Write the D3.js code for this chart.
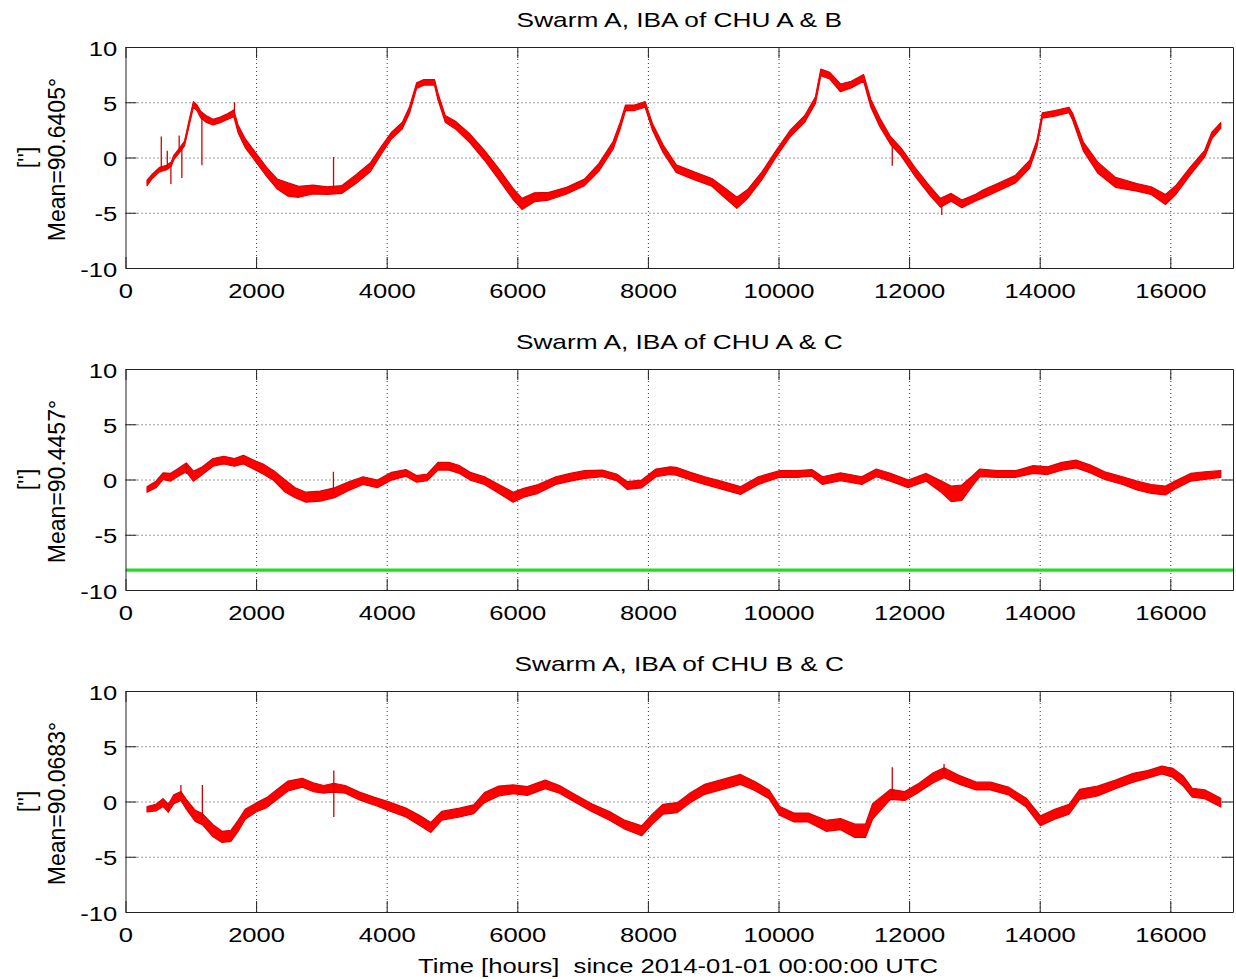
<!DOCTYPE html>
<html><head><meta charset="utf-8">
<script src="https://cdn.jsdelivr.net/npm/d3@7"></script>
<style>
body{margin:0;background:#fff}
svg{display:block}
text{font-family:"Liberation Sans",Arial,Helvetica,sans-serif;fill:#000}
</style>
</head><body>
<svg id="c" width="1236" height="979"></svg>
<script>
// ---------- data (hours since 2014-01-01, value ["], half-spread of noise band) ----------
const xDomain = [0, 16960];
const yDomain = [-10, 10];
const xTicks = [0, 2000, 4000, 6000, 8000, 10000, 12000, 14000, 16000];
const yTicks = [-10, -5, 0, 5, 10];

const titles = ["Swarm A, IBA of CHU A & B", "Swarm A, IBA of CHU A & C", "Swarm A, IBA of CHU B & C"];
const meanLabels = ["Mean=90.6405°", "Mean=90.4457°", "Mean=90.0683°"];
const unitLabel = "['']";
const xLabel = "Time [hours]  since 2014-01-01 00:00:00 UTC";

const ibaAB = [[330,-2.3,0.25],[410,-1.7,0.2],[520,-1.1,0.2],[630,-0.9,0.2],[700,-0.6,0.2],[740,0.0,0.2],[820,0.6,0.2],[903,1.25,0.2],[985,3.4,0.25],[1040,4.8,0.25],[1095,4.5,0.25],[1150,3.9,0.3],[1232,3.5,0.3],[1341,3.2,0.25],[1450,3.4,0.25],[1560,3.7,0.25],[1658,4.0,0.3],[1724,2.6,0.35],[1833,1.3,0.4],[1997,0.0,0.4],[2161,-1.3,0.4],[2325,-2.4,0.45],[2490,-2.9,0.6],[2653,-3.1,0.5],[2872,-2.9,0.4],[3091,-3.0,0.35],[3310,-2.9,0.35],[3529,-1.95,0.4],[3747,-0.9,0.4],[3911,0.6,0.35],[4075,2.0,0.3],[4240,2.9,0.3],[4349,4.3,0.3],[4458,6.5,0.25],[4568,6.8,0.25],[4732,6.8,0.25],[4786,5.5,0.3],[4896,3.5,0.3],[5060,2.9,0.35],[5279,1.7,0.4],[5497,0.2,0.45],[5716,-1.5,0.5],[5935,-3.3,0.5],[6072,-4.2,0.5],[6263,-3.6,0.4],[6482,-3.5,0.35],[6755,-3.0,0.3],[7029,-2.25,0.3],[7248,-0.9,0.35],[7467,1.1,0.35],[7576,2.9,0.3],[7658,4.5,0.25],[7794,4.5,0.25],[7958,4.8,0.25],[8068,2.8,0.3],[8232,0.8,0.35],[8433,-1.0,0.35],[8706,-1.65,0.35],[8980,-2.25,0.35],[9199,-3.3,0.45],[9363,-4.1,0.5],[9527,-3.3,0.4],[9746,-1.65,0.35],[9964,0.35,0.3],[10183,2.2,0.3],[10402,3.5,0.3],[10566,5.2,0.3],[10648,7.7,0.3],[10785,7.4,0.3],[10949,6.3,0.35],[11113,6.6,0.3],[11304,7.2,0.3],[11414,4.9,0.35],[11550,3.2,0.4],[11714,1.55,0.35],[11878,0.5,0.35],[12097,-1.35,0.4],[12316,-3.0,0.4],[12480,-4.1,0.4],[12644,-3.6,0.35],[12808,-4.2,0.35],[13027,-3.6,0.3],[13130,-3.3,0.35],[13355,-2.7,0.35],[13629,-1.95,0.35],[13848,-0.6,0.35],[13957,1.25,0.3],[14039,3.8,0.25],[14230,4.0,0.25],[14449,4.3,0.25],[14504,3.7,0.3],[14668,1.0,0.4],[14887,-0.9,0.5],[15160,-2.25,0.45],[15488,-2.7,0.35],[15707,-3.0,0.35],[15926,-3.8,0.45],[16090,-2.9,0.4],[16309,-1.2,0.35],[16527,0.35,0.3],[16637,2.0,0.3],[16773,2.9,0.25]];

const ibaAC = [[330,-0.9,0.25],[466,-0.45,0.3],[575,0.3,0.3],[685,0.2,0.35],[794,0.6,0.35],[931,1.1,0.4],[1040,0.3,0.45],[1177,0.8,0.35],[1341,1.55,0.35],[1505,1.75,0.35],[1669,1.55,0.35],[1806,1.8,0.4],[1943,1.4,0.4],[2107,0.95,0.45],[2271,0.35,0.45],[2435,-0.55,0.55],[2599,-1.2,0.45],[2763,-1.6,0.45],[2982,-1.5,0.45],[3200,-1.2,0.45],[3419,-0.6,0.4],[3638,-0.1,0.35],[3857,-0.4,0.35],[4075,0.3,0.35],[4294,0.6,0.3],[4458,0.05,0.3],[4622,0.2,0.3],[4786,1.2,0.35],[4951,1.2,0.35],[5115,0.9,0.35],[5279,0.3,0.35],[5497,-0.1,0.35],[5716,-0.85,0.4],[5935,-1.6,0.45],[6099,-1.2,0.4],[6318,-0.85,0.4],[6591,-0.1,0.35],[6810,0.2,0.35],[7029,0.45,0.35],[7302,0.55,0.3],[7521,0.2,0.3],[7685,-0.55,0.35],[7904,-0.4,0.35],[8123,0.6,0.35],[8341,0.8,0.35],[8433,0.75,0.35],[8652,0.3,0.35],[8870,-0.1,0.35],[9089,-0.45,0.35],[9417,-1.0,0.35],[9691,-0.1,0.35],[10019,0.5,0.3],[10292,0.5,0.3],[10511,0.6,0.3],[10675,-0.1,0.35],[10949,0.25,0.35],[11277,-0.1,0.35],[11496,0.6,0.35],[11714,0.2,0.35],[11987,-0.4,0.35],[12261,0.2,0.35],[12480,-0.6,0.5],[12644,-1.3,0.7],[12808,-1.2,0.7],[12972,-0.1,0.45],[13082,0.6,0.35],[13355,0.5,0.3],[13629,0.5,0.3],[13902,0.9,0.35],[14121,0.8,0.35],[14340,1.2,0.35],[14558,1.4,0.35],[14777,0.95,0.35],[14996,0.35,0.35],[15269,-0.1,0.35],[15488,-0.55,0.4],[15707,-0.85,0.4],[15926,-1.0,0.4],[16090,-0.45,0.35],[16309,0.2,0.35],[16527,0.35,0.35],[16773,0.5,0.3]];

const ibaBC = [[330,-0.7,0.25],[466,-0.55,0.3],[575,-0.1,0.35],[657,-0.6,0.35],[740,0.2,0.4],[849,0.5,0.4],[931,-0.25,0.45],[1068,-1.3,0.5],[1177,-1.6,0.5],[1341,-2.65,0.55],[1478,-3.2,0.5],[1614,-3.1,0.5],[1724,-2.2,0.5],[1833,-1.15,0.45],[1997,-0.55,0.4],[2161,-0.1,0.45],[2325,0.65,0.45],[2490,1.4,0.45],[2708,1.7,0.4],[2872,1.3,0.4],[3036,1.1,0.35],[3190,1.25,0.4],[3364,1.1,0.35],[3583,0.5,0.35],[3802,0.05,0.35],[4021,-0.4,0.4],[4294,-1.0,0.4],[4513,-1.75,0.45],[4677,-2.35,0.45],[4841,-1.3,0.4],[5115,-1.0,0.4],[5333,-0.7,0.4],[5497,0.35,0.45],[5716,0.95,0.45],[5935,1.1,0.4],[6153,0.95,0.4],[6427,1.55,0.4],[6646,1.1,0.35],[6865,0.35,0.35],[7138,-0.55,0.35],[7412,-1.3,0.4],[7630,-2.05,0.4],[7904,-2.65,0.45],[8068,-1.6,0.45],[8232,-0.7,0.45],[8451,-0.55,0.45],[8652,0.35,0.45],[8870,1.1,0.45],[9144,1.55,0.45],[9417,2.0,0.45],[9636,1.4,0.4],[9855,0.65,0.4],[10019,-0.85,0.4],[10238,-1.45,0.4],[10456,-1.45,0.4],[10730,-2.2,0.5],[10949,-2.05,0.5],[11168,-2.65,0.6],[11332,-2.65,0.6],[11441,-0.9,0.7],[11714,0.65,0.45],[11933,0.5,0.4],[12152,1.25,0.4],[12371,2.15,0.45],[12535,2.6,0.45],[12754,2.0,0.4],[13027,1.4,0.35],[13246,1.4,0.35],[13519,0.95,0.35],[13793,-0.1,0.4],[14012,-1.75,0.45],[14230,-1.15,0.45],[14449,-0.7,0.45],[14613,0.65,0.45],[14887,0.95,0.45],[15160,1.55,0.4],[15433,2.15,0.4],[15652,2.45,0.35],[15871,2.85,0.35],[16035,2.6,0.4],[16199,1.85,0.45],[16336,0.8,0.4],[16527,0.65,0.4],[16773,-0.1,0.4]];

// isolated spikes: [hour, from, to]
const spikesAB = [[548,-1.1,1.9],[640,-0.9,0.6],[695,-0.7,-2.4],[822,0.5,2.0],[863,1.0,-1.85],[1170,4.0,-0.7],[1669,4.0,5.0],[3186,-3.0,0.05],[11742,1.5,-0.75],[12500,-4.0,-5.2]];
const spikesAC = [[931,0.5,1.5],[3184,-1.3,0.7]];
const spikesBC = [[657,-0.1,-1.0],[849,0.2,1.5],[1177,-1.6,1.5],[3190,-1.4,2.8],[11742,0.5,3.1],[12535,2.5,3.4]];

// reference level drawn in the A&C panel
const acLevel = -8.2;

const series = [ibaAB, ibaAC, ibaBC];
const spikes = [spikesAB, spikesAC, spikesBC];
const levels = [null, acLevel, null];

// ---------- layout ----------
const svg = d3.select("#c");
const X0 = 125.5, X1 = 1233, PH = 221;
const panelTops = [47, 369, 691];
const TICK = 11;
const SX = 1.22;   // horizontal glyph stretch seen in the picture
const fmt = d => String(d);

const x = d3.scaleLinear().domain(xDomain).range([X0, X1]);

panelTops.forEach((top, i) => {
  const y = d3.scaleLinear().domain(yDomain).range([top + PH, top]);
  const g = svg.append("g");

  // grid (dotted)
  const gridStyle = s => { s.select(".domain").remove(); s.selectAll("line").attr("stroke", "#3a3a3a").attr("stroke-width", 1).attr("stroke-dasharray", "1,3").attr("class", "grid"); };
  g.append("g").attr("transform", `translate(0,${top + PH})`)
    .call(d3.axisBottom(x).tickValues(xTicks.filter(t => t > xDomain[0])).tickSize(-PH).tickSizeOuter(0).tickFormat(""))
    .call(gridStyle);
  g.append("g").attr("transform", `translate(${X0},0)`)
    .call(d3.axisLeft(y).tickValues(yTicks.filter(t => t > yDomain[0] && t < yDomain[1])).tickSize(-(X1 - X0)).tickSizeOuter(0).tickFormat(""))
    .call(gridStyle);

  // data band
  const clipId = "clip" + i;
  svg.append("clipPath").attr("id", clipId).append("rect").attr("x", X0).attr("y", top).attr("width", X1 - X0).attr("height", PH);
  const dg = g.append("g").attr("clip-path", `url(#${clipId})`);
  const area = d3.area().x(d => x(d[0])).y0(d => y(d[1] - d[2])).y1(d => y(d[1] + d[2]));
  const line = d3.line().x(d => x(d[0])).y(d => y(d[1]));
  dg.append("path").datum(series[i]).attr("d", area).attr("fill", "#ff0000").attr("stroke", "#e00000").attr("stroke-width", 1.2).attr("stroke-linejoin", "round");
  dg.append("path").datum(series[i]).attr("d", line).attr("fill", "none").attr("stroke", "#ff0000").attr("stroke-width", 1.5);
  dg.selectAll("line.spike").data(spikes[i]).join("line").attr("class", "spike")
    .attr("x1", d => x(d[0])).attr("x2", d => x(d[0])).attr("y1", d => y(d[1])).attr("y2", d => y(d[2]))
    .attr("stroke", "#d40000").attr("stroke-width", 1.3);

  if (levels[i] !== null) {
    dg.append("line").attr("x1", X0).attr("x2", X1).attr("y1", y(levels[i])).attr("y2", y(levels[i]))
      .attr("stroke", "#22dd22").attr("stroke-width", 3.2);
  }

  // axes (inward ticks, box)
  const bottom = g.append("g").attr("transform", `translate(0,${top + PH})`)
    .call(d3.axisBottom(x).tickValues(xTicks).tickFormat(fmt).tickSizeInner(-TICK).tickSizeOuter(0));
  bottom.selectAll("text").attr("y", 30).attr("dy", null).attr("font-size", 21).attr("transform", `scale(${SX},1)`);
  const left = g.append("g").attr("transform", `translate(${X0},0)`)
    .call(d3.axisLeft(y).tickValues(yTicks).tickFormat(fmt).tickSizeInner(-TICK).tickSizeOuter(0));
  left.selectAll("text").attr("x", -6.8).attr("y", 8).attr("dy", null).attr("font-size", 21).attr("transform", `scale(${SX},1)`);
  g.append("g").attr("transform", `translate(0,${top})`)
    .call(d3.axisTop(x).tickValues(xTicks).tickSizeInner(-TICK).tickSizeOuter(0).tickFormat(""));
  g.append("g").attr("transform", `translate(${X1},0)`)
    .call(d3.axisRight(y).tickValues(yTicks).tickSizeInner(-TICK).tickSizeOuter(0).tickFormat(""));
  g.selectAll(".domain").attr("stroke", "#222").attr("stroke-width", 1);
  g.selectAll(".tick line:not(.grid)").attr("stroke", "#222");

  // title
  g.append("text").attr("text-anchor", "middle")
    .attr("transform", `translate(${(X0 + X1) / 2},${top - 20}) scale(1.25,1)`)
    .attr("font-size", 21).text(titles[i]);

  // y labels
  const cy = top + PH / 2;
  g.append("text").attr("text-anchor", "middle").attr("font-size", 23)
    .attr("transform", `translate(35,${cy}) rotate(-90)`).text(unitLabel);
  g.append("text").attr("text-anchor", "middle").attr("font-size", 23)
    .attr("transform", `translate(65,${cy + 2}) rotate(-90)`).text(meanLabels[i]);
});

// x axis label
svg.append("text").attr("text-anchor", "middle").style("white-space", "pre")
  .attr("transform", `translate(678,973) scale(${SX},1)`)
  .attr("font-size", 21).text(xLabel);
</script>
</body></html>
